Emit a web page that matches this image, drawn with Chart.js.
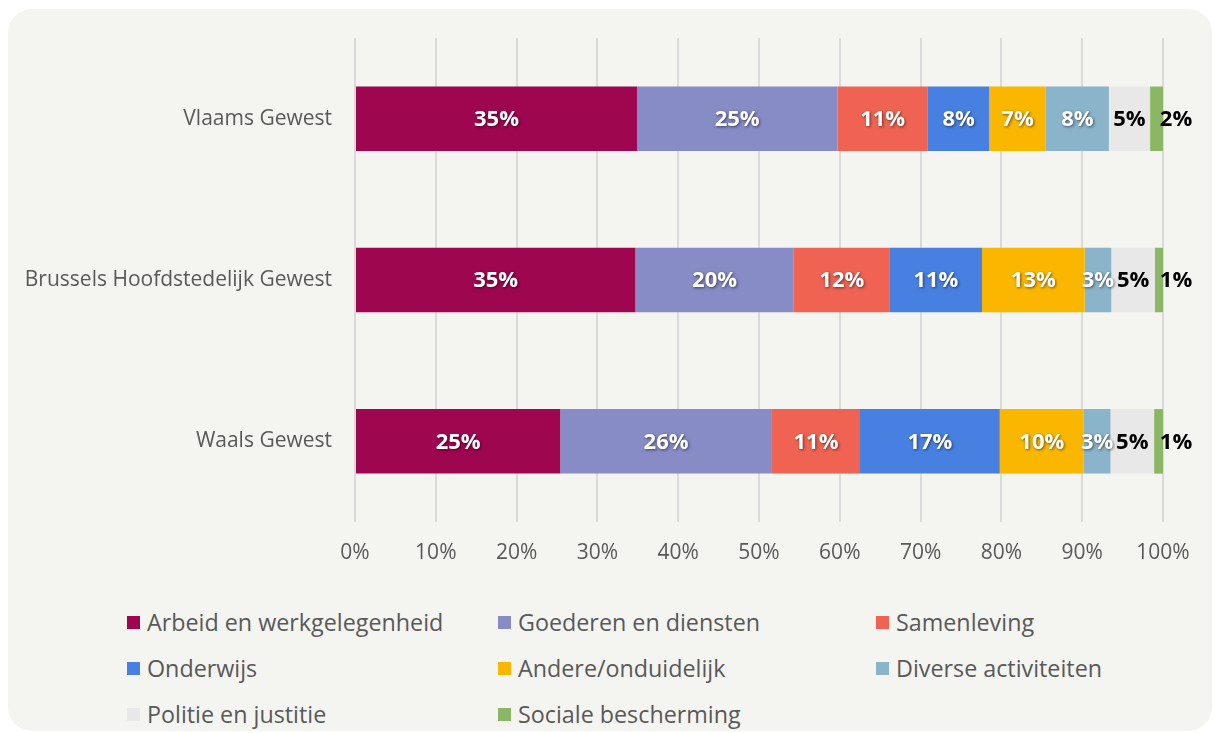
<!DOCTYPE html>
<html>
<head>
<meta charset="utf-8">
<script src="https://cdn.jsdelivr.net/npm/chart.js@4.4.1/dist/chart.umd.min.js"></script>
<style>
  html, body { margin: 0; padding: 0; background: #ffffff; }
  body { width: 1214px; height: 733px; position: relative; overflow: hidden; font-family: 'Open Sans', sans-serif; }
  #panel { position: absolute; left: 8px; top: 9px; width: 1204px; height: 722px; background: #F4F4F0; border-radius: 24px; }
  #chart-wrap { position: absolute; left: 0; top: 0; width: 1214px; height: 580px; }
  #legend { position: absolute; left: 127px; top: 607px; display: grid; grid-template-columns: 371px 378px 320px; row-gap: 16px; }
  .item { display: flex; align-items: center; font-size: 23.3px; color: #595959; height: 30px; white-space: nowrap; }
  .box { width: 13px; height: 13px; margin-right: 7px; flex: none; }
</style>
</head>
<body>
<div id="panel"></div>
<div id="chart-wrap"><canvas id="chart" width="1214" height="580"></canvas></div>
<div id="legend"></div>
<script>
// Data
const regions = ['Vlaams Gewest', 'Brussels Hoofdstedelijk Gewest', 'Waals Gewest'];
const seriesNames = ['Arbeid en werkgelegenheid', 'Goederen en diensten', 'Samenleving', 'Onderwijs',
    'Andere/onduidelijk', 'Diverse activiteiten', 'Politie en justitie', 'Sociale bescherming'];
const arbeid = [34.9, 34.7, 25.4];
const goederen = [24.8, 19.6, 26.2];
const samenleving = [11.2, 11.9, 10.9];
const onderwijs = [7.6, 11.4, 17.3];
const andere = [7.0, 12.7, 10.4];
const diverse = [7.8, 3.3, 3.3];
const politie = [5.1, 5.4, 5.4];
const sociale = [1.6, 1.0, 1.1];
const xTicks = [0, 10, 20, 30, 40, 50, 60, 70, 80, 90, 100];

const seriesValues = [arbeid, goederen, samenleving, onderwijs, andere, diverse, politie, sociale];
const colors = ['#9E0650', '#878BC6', '#F06352', '#4880E2', '#FBB700', '#8AB4CA', '#E8E8E8', '#8BB764'];
const labelColors = ['#ffffff', '#ffffff', '#ffffff', '#ffffff', '#ffffff', '#ffffff', '#000000', '#000000'];

const datasets = seriesNames.map((name, i) => ({
    label: name,
    data: seriesValues[i],
    backgroundColor: colors[i],
    borderWidth: 0,
    barPercentage: 0.8,
    categoryPercentage: 0.5
}));

// Value labels drawn on the bars
const barLabels = {
    id: 'barLabels',
    afterDatasetsDraw(chart) {
        const ctx = chart.ctx;
        ctx.save();
        ctx.font = 'bold 22px "Open Sans", sans-serif';
        ctx.textAlign = 'center';
        ctx.textBaseline = 'middle';
        chart.data.datasets.forEach((ds, i) => {
            const meta = chart.getDatasetMeta(i);
            meta.data.forEach((bar, j) => {
                let x = (bar.x + bar.base) / 2;
                if (i === chart.data.datasets.length - 1) x = bar.x + 13;
                const txt = Math.round(ds.data[j]) + '%';
                if (labelColors[i] === '#ffffff') {
                    ctx.shadowColor = 'rgba(0,0,0,0.55)';
                    ctx.shadowBlur = 3;
                    ctx.shadowOffsetX = 1;
                    ctx.shadowOffsetY = 1;
                } else {
                    ctx.shadowColor = 'transparent';
                    ctx.shadowBlur = 0;
                    ctx.shadowOffsetX = 0;
                    ctx.shadowOffsetY = 0;
                }
                ctx.fillStyle = labelColors[i];
                ctx.fillText(txt, x, bar.y + 1);
            });
        });
        ctx.restore();
    }
};

new Chart(document.getElementById('chart'), {
    type: 'bar',
    data: { labels: regions, datasets: datasets },
    plugins: [barLabels],
    options: {
        indexAxis: 'y',
        responsive: false,
        animation: false,
        layout: { padding: { left: 0, right: 51, top: 38, bottom: 0 } },
        plugins: {
            legend: { display: false },
            tooltip: { enabled: false }
        },
        scales: {
            x: {
                stacked: true,
                min: 0,
                max: 100,
                afterFit: (scale) => { scale.height = 58; },
                afterBuildTicks: (scale) => { scale.ticks = xTicks.map(v => ({ value: v })); },
                grid: { color: '#DADADA', lineWidth: 2, drawTicks: false },
                border: { display: false },
                ticks: {
                    padding: 18,
                    color: '#595959',
                    font: { family: 'Open Sans', size: 21 },
                    callback: (v) => v + '%'
                }
            },
            y: {
                stacked: true,
                afterFit: (scale) => { scale.width = 355; },
                grid: { display: false, drawTicks: false },
                border: { display: false },
                ticks: {
                    padding: 23,
                    color: '#595959',
                    font: { family: 'Open Sans', size: 21 }
                }
            }
        }
    }
});

// HTML legend in three columns
const legendEl = document.getElementById('legend');
seriesNames.forEach((name, i) => {
    const item = document.createElement('div');
    item.className = 'item';
    item.innerHTML = `<span class="box" style="background:${colors[i]}"></span><span>${name}</span>`;
    legendEl.appendChild(item);
});
</script>
</body>
</html>
